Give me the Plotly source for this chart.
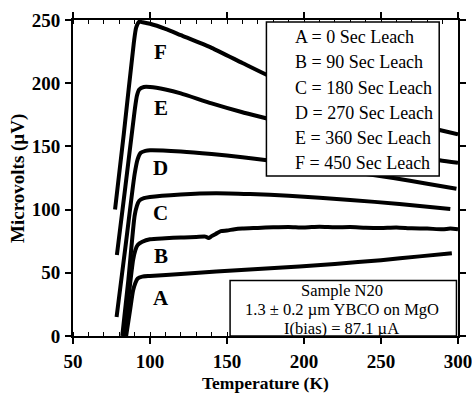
import plotly.graph_objects as go

# ---- data ----
T_A = [84.5, 87, 89, 90.5, 92, 95, 100, 120, 143, 170, 197, 220, 250, 275, 296]
V_A = [0, 20, 36, 42, 45.5, 47, 47.5, 49, 51, 53, 55, 57, 60, 63, 65.5]

T_B = [83, 86, 89, 90.5, 92, 95, 100, 110, 120, 130, 136, 138, 140, 143, 146, 150, 155, 160,
       170, 180, 190, 200, 210, 220, 230, 240, 250, 260, 270, 280, 290, 295, 300]
V_B = [0, 30, 60, 68, 72, 74.5, 76.5, 77.3, 78, 78.3, 78.6, 77.5, 79, 81, 83, 83.5, 84.5, 85,
       85.5, 86, 86.3, 85.8, 86.5, 86, 86.2, 85.7, 85.5, 85.9, 85.2, 85, 84.4, 85, 84.5]

T_C = [82, 86, 90, 91.5, 93, 96, 100, 120, 143, 165, 190, 230, 262, 295]
V_C = [0, 45, 95, 103, 107, 109, 110, 112, 113, 112.3, 111, 107.6, 104.5, 100.5]

T_D = [78.3, 84, 90, 92, 94, 97, 100, 120, 140, 160, 176, 200, 230, 258, 280, 299]
V_D = [15, 70, 128, 140, 145, 146.5, 147, 146, 144, 141.5, 139, 135, 130, 125, 120.5, 116.5]

T_E = [78.5, 84, 90, 91.5, 93, 96, 100, 110, 120, 140, 160, 176, 200, 230, 260, 288, 300]
V_E = [64, 118, 178, 190, 195, 197, 197, 195, 192, 184, 177, 172, 163, 153, 145, 139, 137]

T_F = [77.3, 83, 89.5, 91, 93, 96, 100, 110, 120, 140, 160, 176, 200, 230, 260, 288, 300]
V_F = [100, 160, 232, 244, 248.5, 248, 247, 243, 238, 228, 216, 206.5, 194, 181, 171, 163, 159.5]

curve_names = ["A", "B", "C", "D", "E", "F"]
curve_T = [T_A, T_B, T_C, T_D, T_E, T_F]
curve_V = [V_A, V_B, V_C, V_D, V_E, V_F]

label_T = [107, 107, 107, 107, 107, 107]
label_V = [30, 63, 97, 133, 180, 225]

legend_lines = ["A = 0 Sec Leach", "B = 90 Sec Leach", "C = 180 Sec Leach",
                "D = 270 Sec Leach", "E = 360 Sec Leach", "F = 450 Sec Leach"]
info_lines = ["Sample N20", "1.3 ± 0.2 µm YBCO on MgO", "I(bias) = 87.1 µA"]

x_ticks = [50, 100, 150, 200, 250, 300]
y_ticks = [0, 50, 100, 150, 200, 250]

FONT = "Liberation Serif, Times New Roman, serif"

fig = go.Figure()
for name, tx, vy in zip(curve_names, curve_T, curve_V):
    fig.add_trace(go.Scatter(x=tx, y=vy, mode="lines", name=name,
                             line=dict(color="black", width=4, shape="spline", smoothing=0.6),
                             showlegend=False))

for name, tx, vy in zip(curve_names, label_T, label_V):
    fig.add_annotation(x=tx, y=vy, text="<b>%s</b>" % name, showarrow=False,
                       font=dict(family=FONT, size=21, color="black"))

# legend box (top right)
fig.add_shape(type="rect", xref="x", yref="y", x0=175.6, x1=287.8, y0=126.6, y1=248.5,
              line=dict(color="black", width=1.5), fillcolor="white", layer="above")
for i, txt in enumerate(legend_lines):
    fig.add_annotation(x=193, y=236.5 - i * 20.0, xref="x", yref="y", text=txt,
                       showarrow=False, xanchor="left",
                       font=dict(family=FONT, size=18, color="black"))

# info box (bottom right)
fig.add_shape(type="rect", xref="x", yref="y", x0=152, x1=299, y0=0, y1=44,
              line=dict(color="black", width=1.5), fillcolor="white", layer="above")
for i, txt in enumerate(info_lines):
    fig.add_annotation(x=224.5, y=35.8 - i * 15.0, xref="x", yref="y", text=txt,
                       showarrow=False, xanchor="center", yanchor="middle",
                       font=dict(family=FONT, size=16.5, color="black"))

fig.add_annotation(x=0.5, y=-0.149, xref="paper", yref="paper", text="<b>Temperature (K)</b>",
                   showarrow=False, xanchor="center", yanchor="middle",
                   font=dict(family=FONT, size=17.5, color="black"))
fig.add_annotation(x=-0.143, y=0.5, xref="paper", yref="paper", text="<b>Microvolts (µV)</b>",
                   showarrow=False, textangle=-90, xanchor="center", yanchor="middle",
                   font=dict(family=FONT, size=19, color="black"))

fig.update_xaxes(range=[50, 300], tickvals=x_ticks, ticktext=["<b>%d</b>" % v for v in x_ticks],
                 showline=True, linecolor="black", linewidth=2, mirror="allticks",
                 ticks="outside", ticklen=6, tickwidth=1.5, tickcolor="black",
                 minor=dict(dtick=10, ticks="inside", ticklen=4, tickwidth=1, tickcolor="black"),
                 showgrid=False, zeroline=False, ticklabelstandoff=1, automargin=False,
                 ticklabeloverflow="allow",
                 tickfont=dict(family=FONT, size=19, color="black"))
fig.update_yaxes(range=[0, 250], tickvals=y_ticks, ticktext=["<b>%d</b>" % v for v in y_ticks],
                 showline=True, linecolor="black", linewidth=2, mirror="allticks",
                 ticks="outside", ticklen=6, tickwidth=1.5, tickcolor="black",
                 showgrid=False, zeroline=False, automargin=False, ticklabelstandoff=1,
                 ticklabeloverflow="allow",
                 tickfont=dict(family=FONT, size=19, color="black"))

fig.update_layout(width=472, height=393, margin=dict(l=73, r=14, t=20, b=57),
                  paper_bgcolor="white", plot_bgcolor="white", showlegend=False)

fig.write_html("out.html")
